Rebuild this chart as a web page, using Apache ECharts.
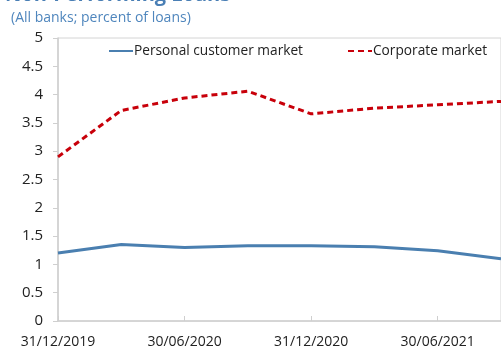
<!DOCTYPE html>
<html>
<head>
<meta charset="utf-8">
<script src="https://cdn.jsdelivr.net/npm/echarts@6/dist/echarts.min.js"></script>
<style>
  html, body { margin: 0; padding: 0; background: #fff; }
  #chart { width: 501px; height: 349px; }
</style>
</head>
<body>
<div id="chart"></div>
<script>
// Quarter-end dates
const quarters = ['31/12/2019', '31/03/2020', '30/06/2020', '30/09/2020',
                  '31/12/2020', '31/03/2021', '30/06/2021', '30/09/2021'];
// Non-performing loans, percent of loans
const personal = [1.20, 1.35, 1.30, 1.33, 1.33, 1.31, 1.24, 1.10];
const corporate = [2.90, 3.72, 3.94, 4.06, 3.66, 3.76, 3.82, 3.88];
const yTicks = [0, 0.5, 1, 1.5, 2, 2.5, 3, 3.5, 4, 4.5, 5];

const font = '"Open Sans", "Noto Sans", sans-serif';
const chart = echarts.init(document.getElementById('chart'), null, { renderer: 'canvas' });

chart.setOption({
  animation: false,
  textStyle: { fontFamily: font },
  title: [
    {
      text: 'Non-Performing Loans',
      left: 0, top: -20,
      textStyle: { fontFamily: font, fontSize: 20, fontWeight: 'bold', color: '#4a7fb5' }
    },
    {
      text: '(All banks; percent of loans)',
      left: 6, top: 6,
      textStyle: { fontFamily: font, fontSize: 14, fontWeight: 'normal', color: '#4f86bd' }
    }
  ],
  legend: {
    left: 103, top: 39, width: 420, orient: 'horizontal',
    itemWidth: 24, itemHeight: 10, itemGap: 44,
    itemStyle: { opacity: 0 },
    textStyle: { fontFamily: font, fontSize: 13.7, color: '#222', padding: [0, 0, 0, -4] },
    data: ['Personal customer market', 'Corporate market']
  },
  grid: {
    left: 58, right: -5, top: 38, bottom: 28,
    show: true, borderColor: '#d4d4d4', borderWidth: 1, backgroundColor: 'transparent'
  },
  xAxis: {
    type: 'category',
    data: quarters,
    boundaryGap: false,
    axisLine: { lineStyle: { color: '#cfcfcf', width: 1.5 } },
    axisTick: { inside: true, length: 5, interval: 1, lineStyle: { color: '#cfcfcf' } },
    axisLabel: { interval: 1, fontSize: 14, color: '#222', margin: 14, fontFamily: font }
  },
  yAxis: {
    type: 'value',
    min: yTicks[0], max: yTicks[yTicks.length - 1], interval: 0.5,
    splitLine: { show: false },
    axisLine: { show: true, lineStyle: { color: '#cfcfcf', width: 1.5 } },
    axisTick: { show: true, length: 5, lineStyle: { color: '#cfcfcf' } },
    axisLabel: { fontSize: 15, color: '#222', margin: 15, fontFamily: font }
  },
  series: [
    {
      name: 'Personal customer market',
      type: 'line',
      data: personal,
      symbol: 'none',
      lineStyle: { color: '#4a7fb0', width: 3 },
      itemStyle: { color: '#4a7fb0' }
    },
    {
      name: 'Corporate market',
      type: 'line',
      data: corporate,
      symbol: 'none',
      lineStyle: { color: '#c8000a', width: 3, type: [6, 4] },
      itemStyle: { color: '#c8000a' }
    }
  ]
});
</script>
</body>
</html>
